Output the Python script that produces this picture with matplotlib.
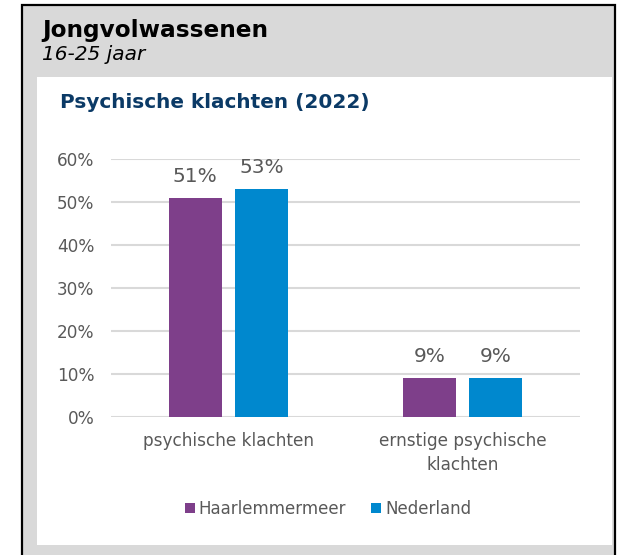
import numpy as np
import matplotlib.pyplot as plt
from matplotlib.patches import Rectangle

# data
categories = ['psychische klachten', 'ernstige psychische\nklachten']
haarlemmermeer = [0.51, 0.09]
nederland = [0.53, 0.09]
series_names = ['Haarlemmermeer', 'Nederland']
yticks = [0, 0.1, 0.2, 0.3, 0.4, 0.5, 0.6]

purple = '#7E3F8A'
blue = '#0088CE'
grey_txt = '#595959'

W, H = 620, 555
fig = plt.figure(figsize=(W / 100, H / 100), dpi=100)
fig.patch.set_facecolor('white')


def box(x0, y0, x1, y1, **kw):
    # pixel coords (top-left origin) -> figure fraction
    r = Rectangle((x0 / W, 1 - y1 / H), (x1 - x0) / W, (y1 - y0) / H,
                  transform=fig.transFigure, zorder=-5, **kw)
    fig.add_artist(r)


# grey card with black border and white panel
box(22, 5, 615, 560, facecolor='#D9D9D9', edgecolor='black', linewidth=1.6)
box(37, 77, 612, 545, facecolor='white', edgecolor='none')

fig.text(42 / W, 1 - 31 / H, 'Jongvolwassenen', fontsize=16.7, fontweight='bold',
         color='black', va='center', ha='left')
fig.text(42 / W, 1 - 55 / H, '16-25 jaar', fontsize=14.5, style='italic',
         color='black', va='center', ha='left')
fig.text(60 / W, 1 - 103 / H, 'Psychische klachten (2022)', fontsize=14.4,
         fontweight='bold', color='#0B3A66', va='center', ha='left')

ax = fig.add_axes([111 / W, (H - 417) / H, 469 / W, 258 / H])
ax.set_facecolor('none')

x = np.arange(len(categories))
bw = 0.226
off = 0.141
b1 = ax.bar(x - off, haarlemmermeer, bw, color=purple, label=series_names[0], zorder=3)
b2 = ax.bar(x + off, nederland, bw, color=blue, label=series_names[1], zorder=3)

for bars in (b1, b2):
    for b in bars:
        ax.annotate(f'{b.get_height() * 100:.0f}%',
                    (b.get_x() + b.get_width() / 2, b.get_height()),
                    xytext=(0, 8.5), textcoords='offset points',
                    ha='center', va='bottom', fontsize=14.5, color=grey_txt)

ax.set_xlim(-0.5, 1.5)
ax.set_ylim(0, 0.6)
ax.set_yticks(yticks)
ax.set_yticklabels([f'{v * 100:.0f}%' for v in yticks])
ax.set_xticks(x)
ax.set_xticklabels(categories, linespacing=1.4)
ax.tick_params(axis='both', length=0, labelsize=12.2, labelcolor=grey_txt)
ax.tick_params(axis='y', pad=12)
ax.tick_params(axis='x', pad=11)
ax.grid(axis='y', color='#D9D9D9', linewidth=1.5, zorder=0)
for s in ax.spines.values():
    s.set_visible(False)

ax.legend(loc='center', bbox_to_anchor=(328 / W, 1 - 509 / H),
          bbox_transform=fig.transFigure, ncol=2, frameon=False,
          handlelength=0.6, handleheight=0.6, handletextpad=0.25,
          columnspacing=1.5, fontsize=12, labelcolor=grey_txt)

fig.savefig('out.png', dpi=100)
